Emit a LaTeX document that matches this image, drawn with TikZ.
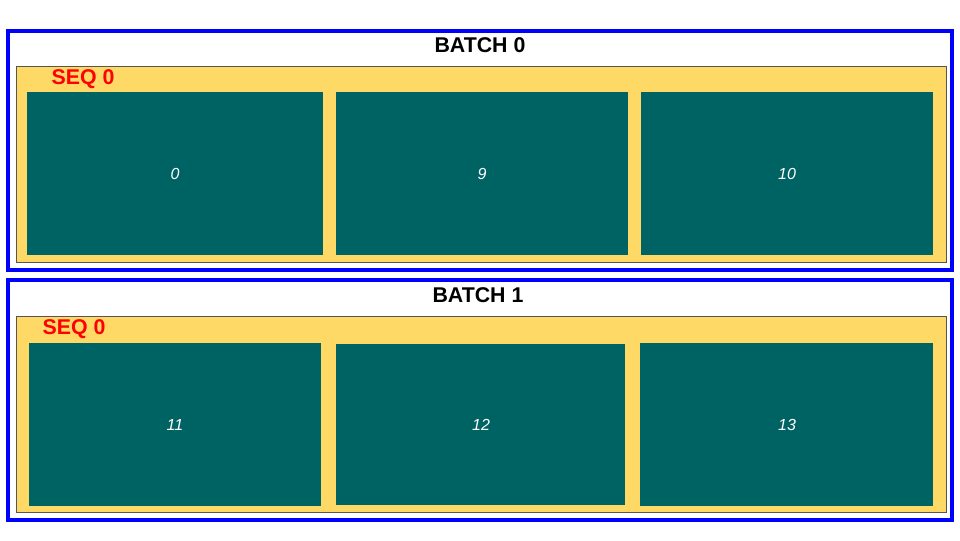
\documentclass[tikz,border=0pt]{standalone}
\usepackage{fontspec}
\setmainfont{Liberation Sans}
\definecolor{batchblue}{RGB}{0,0,255}
\definecolor{seqyellow}{RGB}{255,217,102}
\definecolor{tealbox}{RGB}{0,99,99}
\definecolor{seqborder}{RGB}{85,85,85}
\begin{document}
\begin{tikzpicture}[x=0.75pt,y=-0.75pt,
  batchbox/.style={draw=batchblue,line width=3pt},
  seqbox/.style={draw=seqborder,fill=seqyellow,line width=0.75pt},
  tile/.style={fill=tealbox},
  batchlabel/.style={font=\bfseries\fontsize{16}{19}\selectfont,text=black},
  seqlabel/.style={font=\bfseries\fontsize{16}{19}\selectfont,text=red},
  numlabel/.style={font=\itshape\fontsize{12}{14}\selectfont,text=white}]
\useasboundingbox (0,0) rectangle (960,540);
% Batch 0
\draw[batchbox] (8,30.5) rectangle (952,270);
\node[batchlabel] (b0) at (480,45) {BATCH 0};
\draw[seqbox] (16,66) rectangle (946,262);
\node[seqlabel] (s0) at (83,79.5) {SEQ 0};
\fill[tile] (27,92) rectangle (323,255);
\fill[tile] (336,92) rectangle (628,255);
\fill[tile] (641,92) rectangle (933,255);
\node[numlabel] (n0) at (175,174) {0};
\node[numlabel] (n9) at (482,174) {9};
\node[numlabel] (n10) at (787,174) {10};
% Batch 1
\draw[batchbox] (8,280) rectangle (952,519.5);
\node[batchlabel] (b1) at (478,295) {BATCH 1};
\draw[seqbox] (16,316) rectangle (946,512);
\node[seqlabel] (s1) at (74,329.5) {SEQ 0};
\fill[tile] (29,343) rectangle (321,506);
\fill[tile] (336,344) rectangle (625,505);
\fill[tile] (640,343) rectangle (933,506);
\node[numlabel] (n11) at (175,425) {11};
\node[numlabel] (n12) at (481,425) {12};
\node[numlabel] (n13) at (787,425) {13};
\end{tikzpicture}
\end{document}
